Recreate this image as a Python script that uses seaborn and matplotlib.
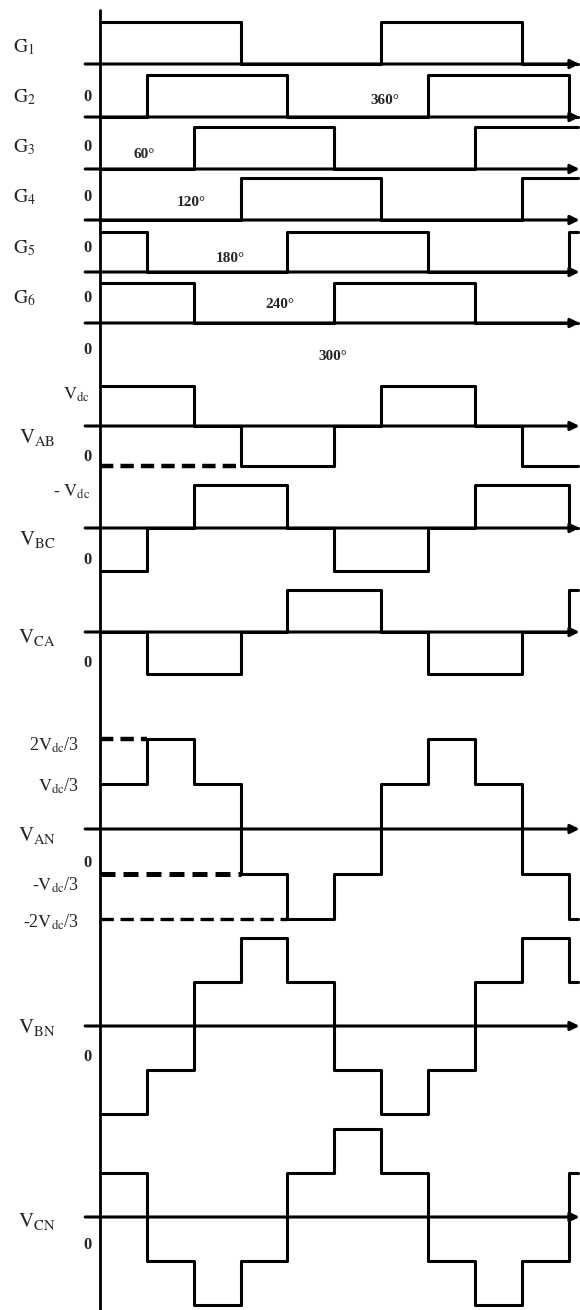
import numpy as np
import pandas as pd
import seaborn as sns
import matplotlib.pyplot as plt

# angulos de conmutacion (grados), un sector cada 60
angulos = [0, 60, 120, 180, 240, 300, 360, 420, 480, 540, 600]
fin = 612

# señales de compuerta por sector
G1 = [1, 1, 1, 0, 0, 0, 1, 1, 1, 0, 0]
G2 = [0, 1, 1, 1, 0, 0, 0, 1, 1, 1, 0]
G3 = [0, 0, 1, 1, 1, 0, 0, 0, 1, 1, 1]
G4 = [0, 0, 0, 1, 1, 1, 0, 0, 0, 1, 1]
G5 = [1, 0, 0, 0, 1, 1, 1, 0, 0, 0, 1]
G6 = [1, 1, 0, 0, 0, 1, 1, 1, 0, 0, 0]

# tensiones de linea (en Vdc)
VAB = [1, 1, 0, -1, -1, 0, 1, 1, 0, -1, -1]
VBC = [-1, 0, 1, 1, 0, -1, -1, 0, 1, 1, 0]
VCA = [0, -1, -1, 0, 1, 1, 0, -1, -1, 0, 1]

# tensiones de fase (en Vdc/3)
VAN = [1, 2, 1, -1, -2, -1, 1, 2, 1, -1, -2]
VBN = [-2, -1, 1, 2, 1, -1, -2, -1, 1, 2, 1]
VCN = [1, -1, -2, -1, 1, 2, 1, -1, -2, -1, 1]

# layout: (señal, linea base en px, px por unidad)
filas = [
    (G1, 64, 42), (G2, 117, 42), (G3, 169, 42), (G4, 220, 42),
    (G5, 272, 40), (G6, 323, 40),
    (VAB, 426, 40), (VBC, 528, 43), (VCA, 632, 42),
    (VAN, 829, 45), (VBN, 1026, 44), (VCN, 1217, 44),
]

W, H = 580, 1310
X0, PX_DEG = 100, 0.781

sns.set_style('white')
plt.rcParams['font.family'] = ['Liberation Serif', 'DejaVu Serif']
plt.rcParams['mathtext.fontset'] = 'stix'

fig = plt.figure(figsize=(W / 100, H / 100), dpi=100)
ax = fig.add_axes([0, 0, 1, 1])
ax.set_xlim(-X0 / PX_DEG, (W - X0) / PX_DEG)
ax.set_ylim(H, 0)
ax.axis('off')

xs = angulos + [fin]
for senal, base, esc in filas:
    df = pd.DataFrame({'grados': xs, 'y': [base - esc * v for v in senal + [senal[-1]]]})
    sns.lineplot(data=df, x='grados', y='y', drawstyle='steps-post', estimator=None,
                 sort=False, color='black', lw=2.2, ax=ax, legend=False)
    # eje horizontal con flecha
    ax.annotate('', xy=(fin + 2, base), xytext=(-19, base),
                arrowprops=dict(arrowstyle='-|>', lw=2.2, color='black',
                                mutation_scale=13, shrinkA=0, shrinkB=0))

# eje vertical
ax.plot([0, 0], [10, H], color='black', lw=2.0)

# lineas de referencia a trazos
ax.plot([0, 180], [426 + 40, 426 + 40], color='black', lw=3.2, ls=(0, (3, 1.6)))
ax.plot([0, 60], [829 - 90, 829 - 90], color='black', lw=3.2, ls=(0, (3, 1.6)))
ax.plot([0, 180], [829 + 45, 829 + 45], color='black', lw=3.6, ls=(0, (3, 1.6)))
ax.plot([0, 240], [829 + 90, 829 + 90], color='black', lw=2.4, ls=(0, (4, 2)))


def txt(x, y, s, size=12, ha='center', **kw):
    fig.text(x / W, 1 - y / H, s, fontsize=size, ha=ha, va='center', **kw)


# etiquetas de compuertas
for i, y in enumerate([47, 97, 147, 197, 248, 298]):
    txt(24, y, r'$\mathrm{G_{%d}}$' % (i + 1), size=14)

# ceros
for y in [97, 147, 197, 248, 298, 350, 457, 560, 663, 863, 1057, 1245]:
    txt(88, y, '0', size=12, weight='bold')

# angulos
for s, x, y in [('360°', 385, 100), ('60°', 144, 155), ('120°', 191, 203),
                ('180°', 230, 258), ('240°', 280, 305), ('300°', 333, 357)]:
    txt(x, y, s, size=11, weight='bold')

# etiquetas de tensiones
for s, y in [('AB', 437), ('BC', 540), ('CA', 637), ('AN', 835), ('BN', 1027), ('CN', 1222)]:
    txt(37, y, r'$\mathrm{V_{%s}}$' % s, size=15)

txt(76, 395, r'$\mathrm{V_{dc}}$', size=13)
txt(72, 492, r'- $\mathrm{V_{dc}}$', size=13)
txt(79, 745, r'2$\mathrm{V_{dc}}$/3', size=13, ha='right')
txt(79, 786, r'$\mathrm{V_{dc}}$/3', size=13, ha='right')
txt(79, 885, r'-$\mathrm{V_{dc}}$/3', size=13, ha='right')
txt(79, 922, r'-2$\mathrm{V_{dc}}$/3', size=13, ha='right')

fig.savefig('out.png', dpi=100, facecolor='white')
